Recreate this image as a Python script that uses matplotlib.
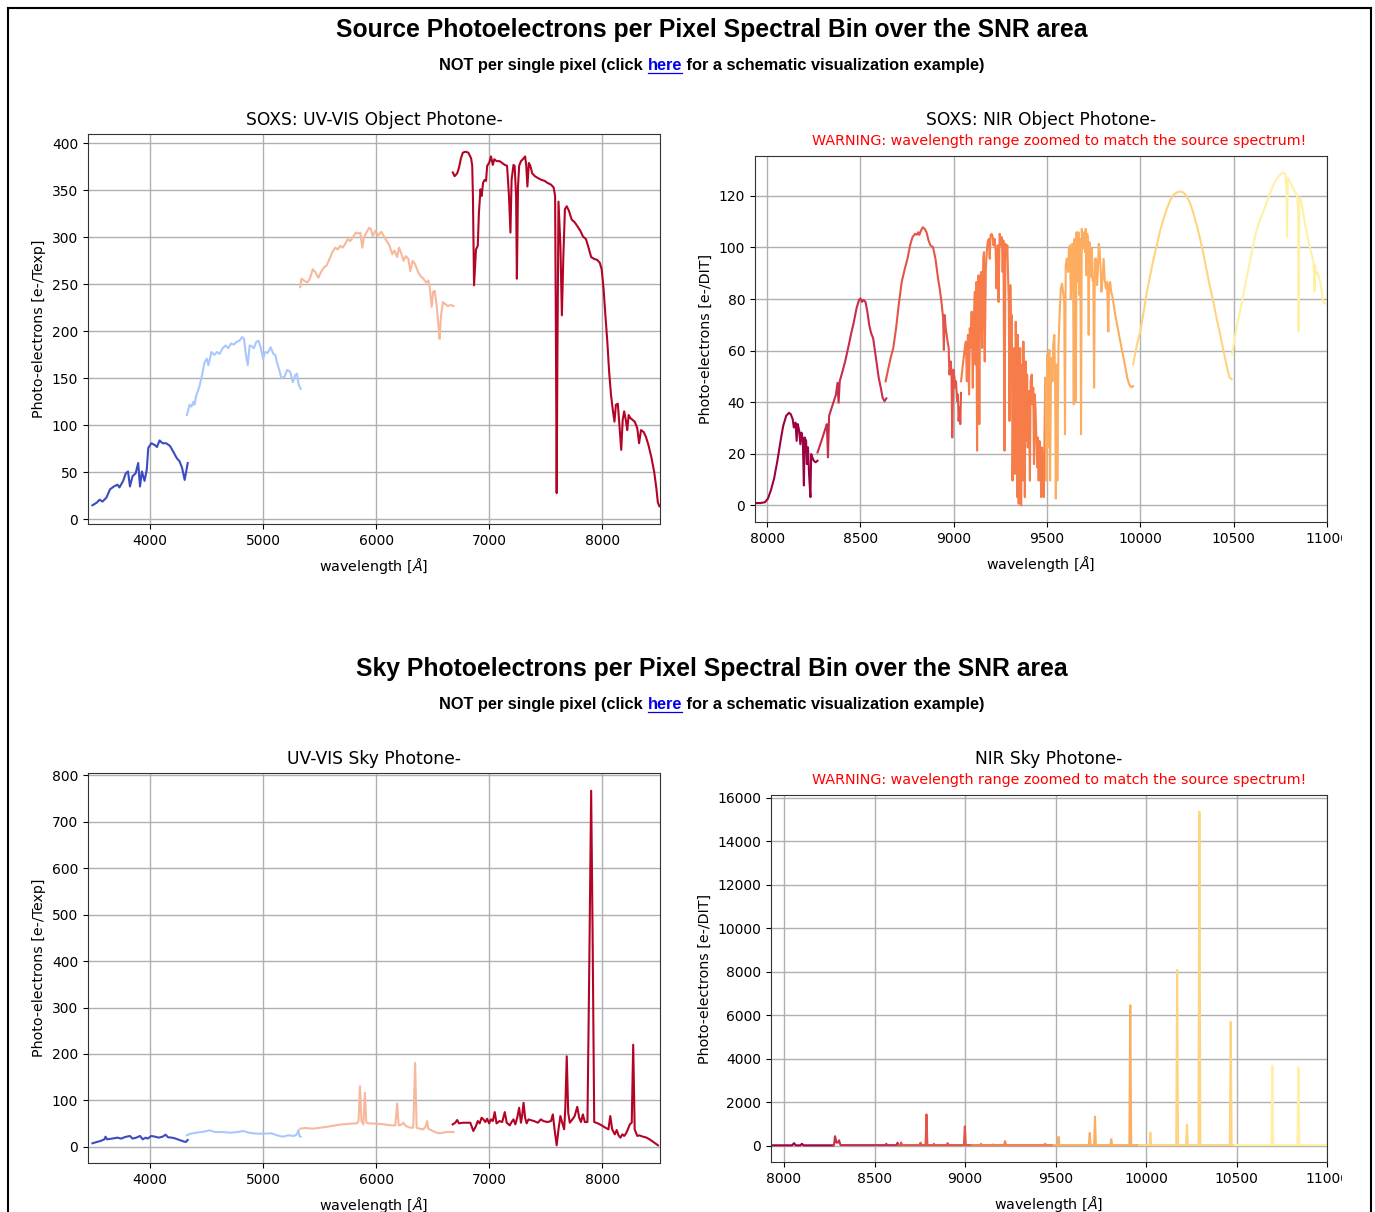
import matplotlib
matplotlib.use("Agg")
import matplotlib.pyplot as plt
import numpy as np
from matplotlib.lines import Line2D
from matplotlib.transforms import Bbox, TransformedBbox

W, H = 1375, 1212

# ---------------- source photo-electrons, UV-VIS arms (Angstrom, e-/Texp)
uv_src_wl_1 = [3489, 3529, 3552, 3578, 3612, 3645, 3678, 3711, 3728, 3761, 3784, 3804, 3821, 3844, 3871, 3894,
               3910, 3927, 3950, 3970, 3983, 4010, 4043, 4060, 4083, 4110, 4143, 4176, 4209, 4236, 4259, 4282,
               4305, 4332]
uv_src_e_1 = [15, 18, 21, 19, 23, 32, 35, 37, 34, 41, 49, 51, 35, 46, 49, 60, 35, 51, 41, 53, 76, 81, 79, 77, 84,
              81, 81, 78, 71, 65, 62, 55, 42, 60]

uv_src_wl_2 = [4325, 4349, 4365, 4382, 4392, 4408, 4435, 4458, 4481, 4501, 4515, 4541, 4568, 4591, 4614, 4641,
               4667, 4691, 4714, 4740, 4767, 4790, 4813, 4830, 4847, 4863, 4880, 4900, 4916, 4940, 4959, 4979,
               4999, 5016, 5039, 5066, 5089, 5106, 5122, 5139, 5162, 5189, 5212, 5238, 5262, 5282, 5298, 5315,
               5331]
uv_src_e_2 = [111, 122, 120, 125, 122, 132, 141, 153, 167, 171, 164, 178, 175, 178, 176, 182, 185, 182, 187, 186,
              189, 190, 194, 192, 175, 164, 185, 184, 182, 189, 190, 182, 171, 178, 177, 183, 176, 175, 167, 160,
              150, 152, 159, 157, 146, 153, 155, 143, 139]

uv_src_wl_3 = [5328, 5338, 5361, 5388, 5404, 5421, 5438, 5461, 5487, 5511, 5537, 5560, 5587, 5610, 5637, 5660,
               5680, 5703, 5726, 5746, 5770, 5793, 5819, 5843, 5859, 5876, 5892, 5912, 5936, 5952, 5969, 5992,
               6019, 6045, 6068, 6092, 6118, 6141, 6161, 6185, 6201, 6218, 6241, 6261, 6284, 6301, 6321, 6341,
               6367, 6390, 6417, 6440, 6460, 6473, 6490, 6503, 6517, 6533, 6550, 6560, 6573, 6590, 6610, 6633,
               6659, 6683]
uv_src_e_3 = [247, 256, 254, 252, 254, 259, 266, 263, 257, 263, 268, 270, 277, 284, 289, 287, 291, 289, 293, 298,
              296, 300, 305, 304, 305, 289, 300, 305, 310, 309, 301, 307, 302, 306, 301, 296, 291, 282, 286, 279,
              289, 284, 275, 280, 277, 264, 275, 272, 264, 259, 256, 252, 254, 247, 226, 242, 243, 229, 206, 192,
              217, 231, 229, 227, 228, 227]

uv_src_wl_4 = [6677, 6693, 6716, 6732, 6749, 6766, 6789, 6815, 6839, 6849, 6855, 6865, 6882, 6898, 6908, 6922,
               6932, 6945, 6958, 6971, 6981, 6998, 7015, 7031, 7044, 7064, 7091, 7114, 7137, 7157, 7174, 7187,
               7197, 7214, 7224, 7237, 7244, 7254, 7264, 7280, 7297, 7317, 7327, 7337, 7350, 7363, 7380, 7403,
               7430, 7463, 7489, 7513, 7546, 7569, 7582, 7589, 7596, 7602, 7612, 7629, 7642, 7655, 7669, 7685,
               7705, 7728, 7755, 7778, 7805, 7828, 7855, 7878, 7901, 7928, 7954, 7977, 7994, 8011, 8027, 8044,
               8060, 8077, 8094, 8107, 8120, 8137, 8153, 8167, 8180, 8193, 8210, 8220, 8233, 8246, 8266, 8286,
               8309, 8325, 8342, 8365, 8385, 8408, 8432, 8458, 8478, 8491, 8505]
uv_src_e_4 = [369, 365, 368, 374, 384, 390, 391, 390, 384, 376, 344, 249, 287, 291, 326, 351, 344, 358, 361, 360,
              376, 379, 386, 377, 383, 381, 381, 379, 377, 376, 344, 305, 361, 377, 376, 344, 256, 354, 376, 381,
              383, 386, 376, 354, 379, 376, 368, 365, 363, 361, 360, 358, 356, 353, 344, 203, 28, 167, 338, 291,
              217, 280, 330, 333, 328, 319, 316, 312, 307, 301, 298, 289, 279, 277, 276, 273, 266, 245, 217, 189,
              157, 132, 115, 104, 122, 123, 97, 74, 106, 115, 104, 95, 111, 108, 106, 104, 97, 81, 95, 93, 88, 79,
              67, 51, 33, 18, 14]

# ---------------- source photo-electrons, NIR orders (Angstrom, e-/DIT)
nir_src_wl_1 = [7939, 7963, 7988, 8004, 8020, 8037, 8055, 8072, 8086, 8102, 8117, 8127, 8137, 8143, 8152, 8158,
                8164, 8172, 8178, 8184, 8191, 8197, 8201, 8209, 8213, 8219, 8225, 8232, 8236, 8242, 8250, 8260,
                8270]
nir_src_e_1 = [0.9, 0.9, 1.2, 2.6, 5.8, 10.3, 17.3, 25.0, 30.8, 34.7, 35.9, 35.3, 33.4, 30.2, 32.1, 25.0, 31.5,
               28.9, 23.7, 28.2, 25.7, 7.7, 26.3, 25.0, 16.0, 22.5, 11.6, 3.2, 19.9, 18.6, 17.3, 16.7, 17.3]

nir_src_wl_2 = [8270, 8291, 8311, 8320, 8326, 8332, 8352, 8369, 8377, 8383, 8389, 8404, 8418, 8434, 8451, 8465,
                8479, 8492, 8500, 8508, 8516, 8527, 8537, 8547, 8557, 8568, 8578, 8588, 8598, 8609, 8619, 8629,
                8639]
nir_src_e_2 = [20.5, 25.0, 29.5, 31.5, 18.6, 34.7, 39.2, 43.0, 47.5, 39.8, 48.1, 52.0, 55.8, 61.0, 66.8, 71.2,
               76.4, 79.6, 80.2, 78.9, 79.6, 78.9, 75.1, 70.0, 66.8, 64.8, 59.7, 54.6, 49.4, 45.6, 41.7, 40.4, 41.5]

nir_src_wl_3 = [8635, 8650, 8664, 8676, 8691, 8705, 8721, 8738, 8752, 8766, 8779, 8793, 8803, 8809, 8816, 8824,
                8834, 8844, 8854, 8865, 8875, 8889, 8902, 8916, 8926, 8936, 8943, 8947, 8951, 8957, 8967, 8973,
                8977, 8984, 8988, 8992, 8998, 9004, 9008, 9012, 9018, 9022, 9026, 9031, 9035, 9039]
nir_src_e_3 = [48.1, 53.3, 57.8, 61.0, 68.7, 77.7, 86.6, 91.8, 95.6, 100.8, 104.0, 105.3, 104.9, 105.9, 104.9,
               106.5, 107.8, 107.2, 105.9, 102.7, 100.8, 100.1, 95.6, 87.9, 83.4, 77.7, 72.5, 60.3, 73.8, 68.7,
               63.5, 61.0, 50.7, 55.8, 50.7, 26.3, 52.6, 49.4, 45.6, 48.1, 40.4, 43.0, 32.7, 37.9, 31.5, 43.6]

nir_src_wl_4 = [9039, 9049, 9059, 9065, 9070, 9076, 9082, 9086, 9090, 9096, 9102, 9106, 9113, 9117, 9121, 9125,
                9129, 9133, 9137, 9141, 9147, 9152, 9158, 9162, 9166, 9172, 9178, 9182, 9188, 9193, 9197, 9203,
                9209, 9213, 9219, 9225, 9229, 9236, 9240, 9246, 9252, 9258, 9262, 9266, 9272, 9277, 9283, 9287,
                9291, 9295, 9299, 9303, 9307, 9311, 9315, 9320, 9324, 9328, 9332, 9336, 9340, 9344, 9348, 9352,
                9356, 9361, 9365, 9369, 9373, 9377, 9381, 9385, 9389, 9393, 9397, 9402, 9408, 9412, 9418, 9422,
                9426, 9430, 9434, 9438, 9443, 9447, 9451, 9455, 9459, 9463, 9469, 9473, 9479, 9483, 9490]
nir_src_e_4 = [48.1, 54.6, 61.0, 63.5, 48.1, 66.1, 43.0, 68.7, 61.0, 75.1, 45.6, 68.7, 82.8, 54.6, 86.6, 21.2,
               84.1, 89.2, 31.5, 81.5, 90.5, 61.0, 95.6, 98.2, 55.8, 91.8, 99.5, 102.1, 103.3, 95.6, 104.6, 105.3,
               104.0, 100.8, 103.3, 98.2, 84.1, 100.8, 78.9, 105.3, 100.8, 104.0, 90.5, 102.7, 21.2, 101.4, 96.9,
               100.8, 89.2, 77.7, 32.7, 85.4, 66.1, 73.8, 9.6, 48.1, 61.0, 12.2, 71.2, 50.7, 3.2, 66.1, 0.6, 40.4,
               61.0, 0.0, 54.6, 9.6, 63.5, 41.7, 3.2, 55.8, 25.0, 50.7, 22.5, 44.3, 9.6, 48.1, 50.7, 39.2, 45.6,
               16.0, 43.0, 37.9, 25.0, 14.8, 26.3, 9.6, 25.0, 21.2, 3.2, 22.5, 9.6, 3.2, 49.4]

nir_src_wl_5 = [9490, 9496, 9500, 9506, 9512, 9516, 9522, 9529, 9533, 9539, 9543, 9547, 9551, 9555, 9561, 9567,
                9574, 9580, 9586, 9592, 9596, 9600, 9606, 9613, 9617, 9623, 9627, 9631, 9635, 9639, 9643, 9647,
                9654, 9658, 9664, 9668, 9674, 9678, 9682, 9686, 9690, 9695, 9699, 9703, 9707, 9711, 9715, 9719,
                9723, 9727, 9731, 9736, 9740, 9744, 9748, 9752, 9756, 9762, 9768, 9772, 9777, 9781, 9787, 9791,
                9797, 9803, 9809, 9815, 9822, 9828, 9832, 9838, 9844, 9852, 9860, 9869, 9879, 9889, 9899, 9910,
                9920, 9930, 9940, 9951, 9961]
nir_src_e_5 = [49.4, 9.6, 58.4, 22.5, 60.3, 9.6, 57.1, 48.1, 62.3, 66.1, 48.1, 2.6, 54.6, 9.6, 61.0, 73.8, 84.1,
               86.0, 82.8, 78.9, 27.6, 93.1, 95.6, 90.5, 99.5, 100.8, 80.2, 89.2, 101.4, 96.9, 39.2, 103.3, 40.4,
               105.9, 86.6, 105.9, 81.5, 103.3, 27.6, 107.2, 99.5, 104.6, 105.9, 98.2, 107.2, 89.2, 105.3, 103.3,
               66.1, 102.1, 95.6, 88.6, 99.5, 87.3, 86.6, 45.6, 95.6, 95.6, 85.4, 90.5, 101.4, 99.5, 91.8, 82.8,
               87.3, 95.6, 87.9, 84.1, 86.6, 67.4, 85.4, 86.6, 82.8, 80.2, 76.4, 72.5, 68.7, 64.8, 61.0, 57.1,
               53.3, 49.4, 46.9, 45.8, 46.2]

nir_src_wl_6 = [9961, 9982, 10000, 10018, 10035, 10053, 10071, 10088, 10106, 10124, 10141, 10159, 10177, 10194,
                10212, 10230, 10247, 10265, 10283, 10300, 10318, 10336, 10353, 10371, 10389, 10406, 10424, 10442,
                10459, 10477, 10489]
nir_src_e_6 = [54.7, 62.4, 67.5, 75.2, 82.9, 89.3, 95.7, 100.8, 106.6, 111.0, 114.9, 118.1, 120.3, 121.3, 121.7,
               121.3, 120.0, 117.4, 113.6, 109.1, 104.0, 98.2, 91.8, 85.4, 79.7, 73.3, 67.5, 61.1, 55.3, 49.6, 48.9]

nir_src_wl_7 = [10491, 10512, 10530, 10548, 10565, 10583, 10601, 10618, 10636, 10654, 10671, 10689, 10707, 10724,
                10742, 10756, 10769, 10777, 10783, 10786, 10790, 10795, 10804, 10813, 10822, 10830, 10839, 10845,
                10848, 10852, 10857, 10866, 10875, 10883, 10892, 10901, 10910, 10919, 10928, 10933, 10936, 10940,
                10945, 10954, 10963, 10972, 10977, 10995]
nir_src_e_7 = [58.5, 67.5, 73.9, 80.3, 86.7, 93.1, 99.5, 105.3, 109.8, 113.0, 116.2, 120.0, 123.2, 125.8, 127.7,
               128.7, 129.0, 128.3, 122.6, 104.0, 127.0, 126.4, 125.1, 123.8, 122.6, 121.3, 120.0, 116.2, 67.5,
               118.7, 119.4, 116.2, 112.3, 108.5, 105.9, 102.1, 99.5, 97.0, 94.4, 82.9, 93.1, 89.3, 90.6, 89.3,
               86.7, 82.9, 79.0, 78.0]

# ---------------- sky photo-electrons, UV-VIS arms
uv_sky_wl_1 = [3489, 3529, 3562, 3595, 3605, 3618, 3661, 3711, 3744, 3778, 3821, 3844, 3877, 3910, 3934, 3960,
               3977, 4010, 4043, 4076, 4110, 4136, 4159, 4193, 4226, 4259, 4292, 4315, 4332]
uv_sky_e_1 = [7.9, 10.7, 12.9, 16.4, 22.1, 16.4, 17.9, 20.0, 17.9, 21.4, 23.6, 17.9, 20.0, 23.6, 16.4, 20.0, 17.9,
              23.6, 22.1, 20.0, 22.1, 26.4, 20.7, 20.0, 17.9, 15.0, 12.1, 10.7, 15.0]

uv_sky_wl_2 = [4325, 4359, 4408, 4475, 4525, 4574, 4641, 4707, 4774, 4823, 4873, 4940, 5006, 5072, 5122, 5172,
               5222, 5272, 5298, 5311, 5321, 5331]
uv_sky_e_2 = [25.0, 28.6, 30.7, 32.9, 35.7, 32.1, 32.1, 30.7, 32.1, 34.3, 30.7, 28.6, 28.6, 29.3, 25.0, 22.1, 25.0,
              23.6, 27.1, 36.4, 23.6, 22.1]

uv_sky_wl_3 = [5328, 5371, 5438, 5504, 5570, 5637, 5703, 5770, 5829, 5843, 5856, 5869, 5886, 5899, 5912, 5936,
               6002, 6068, 6135, 6168, 6185, 6198, 6221, 6241, 6261, 6301, 6327, 6344, 6357, 6384, 6417, 6440,
               6450, 6460, 6500, 6533, 6566, 6616, 6683]
uv_sky_e_3 = [39.3, 40.7, 39.3, 41.4, 43.6, 46.4, 48.6, 50.0, 50.7, 55.7, 130.7, 55.7, 48.6, 116.4, 52.1, 50.7,
              50.0, 48.6, 46.4, 46.4, 93.6, 46.4, 47.9, 52.1, 45.0, 41.4, 41.4, 180.7, 41.4, 39.3, 37.9, 45.0,
              55.7, 39.3, 34.3, 30.7, 29.3, 32.1, 32.1]

uv_sky_wl_4 = [6676, 6699, 6716, 6732, 6766, 6799, 6832, 6859, 6882, 6898, 6915, 6932, 6948, 6965, 6981, 6998,
               7015, 7031, 7048, 7064, 7091, 7114, 7137, 7154, 7181, 7197, 7214, 7230, 7247, 7264, 7280, 7290,
               7303, 7317, 7330, 7347, 7363, 7396, 7430, 7456, 7479, 7513, 7546, 7562, 7579, 7596, 7612, 7629,
               7645, 7662, 7672, 7685, 7698, 7712, 7735, 7755, 7778, 7795, 7811, 7828, 7845, 7868, 7884, 7901,
               7914, 7928, 7961, 7994, 8027, 8054, 8070, 8087, 8110, 8127, 8143, 8160, 8177, 8193, 8210, 8226,
               8243, 8260, 8273, 8286, 8309, 8326, 8359, 8392, 8426, 8459, 8492]
uv_sky_e_4 = [48.6, 52.1, 57.9, 50.7, 52.1, 52.1, 52.1, 34.3, 45.0, 55.7, 50.7, 62.9, 59.3, 53.6, 60.7, 50.7,
              59.3, 55.7, 75.0, 50.7, 55.7, 53.6, 75.0, 52.1, 46.4, 53.6, 59.3, 48.6, 62.9, 84.3, 52.1, 66.4,
              95.0, 62.9, 50.7, 59.3, 57.9, 55.7, 52.1, 59.3, 55.7, 53.6, 55.7, 70.0, 34.3, 3.6, 37.9, 66.4,
              52.1, 37.9, 80.7, 195.0, 73.6, 52.1, 59.3, 66.4, 86.4, 62.9, 53.6, 70.0, 53.6, 53.6, 380.7, 766.4,
              452.1, 53.6, 50.7, 46.4, 41.4, 37.9, 66.4, 37.9, 27.1, 36.4, 25.0, 20.0, 27.1, 23.6, 29.3, 37.9,
              48.6, 52.1, 220.0, 37.9, 23.6, 25.0, 22.1, 20.0, 15.0, 9.3, 3.6]

# ---------------- sky photo-electrons, NIR orders
nir_sky_wl_1 = [7930, 8045, 8055, 8065, 8090, 8099, 8108, 8270]
nir_sky_e_1 = [30, 30, 130, 30, 30, 100, 30, 30]
nir_sky_wl_2 = [8270, 8276, 8282, 8290, 8298, 8304, 8312, 8560, 8565, 8570, 8622, 8627, 8633, 8639]
nir_sky_e_2 = [30, 40, 450, 150, 160, 260, 40, 40, 100, 40, 40, 150, 40, 40]
nir_sky_wl_3 = [8635, 8642, 8647, 8652, 8750, 8754, 8758, 8782, 8787, 8792, 8824, 8828, 8832, 8900, 8904, 8908,
                8994, 8999, 9004, 9039]
nir_sky_e_3 = [40, 40, 160, 40, 40, 150, 40, 40, 1450, 40, 40, 100, 40, 40, 130, 40, 40, 900, 40, 40]
nir_sky_wl_4 = [9039, 9085, 9089, 9093, 9151, 9155, 9159, 9216, 9221, 9226, 9438, 9443, 9448, 9490]
nir_sky_e_4 = [40, 40, 100, 40, 40, 70, 40, 40, 220, 40, 40, 100, 40, 40]
nir_sky_wl_5 = [9490, 9512, 9517, 9522, 9684, 9689, 9694, 9713, 9718, 9723, 9803, 9808, 9813, 9908, 9913, 9918,
                9961]
nir_sky_e_5 = [40, 40, 420, 40, 40, 600, 40, 40, 1350, 40, 40, 310, 40, 40, 6470, 40, 40]
nir_sky_wl_6 = [9961, 10019, 10024, 10029, 10167, 10172, 10177, 10221, 10226, 10231, 10290, 10295, 10300, 10463,
                10468, 10473, 10489]
nir_sky_e_6 = [40, 40, 620, 40, 40, 8080, 40, 40, 980, 40, 40, 15360, 40, 40, 5700, 40, 40]
nir_sky_wl_7 = [10489, 10693, 10698, 10703, 10837, 10842, 10847, 11000]
nir_sky_e_7 = [40, 40, 3690, 40, 40, 3600, 40, 40]

nir_ticks = [8000, 8500, 9000, 9500, 10000, 10500, 11000]
uv_ticks = [4000, 5000, 6000, 7000, 8000]

TICK_FS = 10
LABEL_FS = 10.3
TITLE_FS = 12.3
WARN_FS = 10.3

plt.rcParams['font.family'] = 'DejaVu Sans'
plt.rcParams['axes.edgecolor'] = '#333333'

fig = plt.figure(figsize=(W / 100, H / 100), dpi=100)
renderer = fig.canvas.get_renderer()


def fy(py):
    return 1 - py / H


def add_axes_px(left, top, right, bottom):
    return fig.add_axes([left / W, 1 - bottom / H, (right - left) / W, (bottom - top) / H])


def spectrum_panel(ax, wls, counts, colors, xlim, xticks, ylabel):
    for wl, ct, c in zip(wls, counts, colors):
        ax.plot(wl, ct, color=c, lw=1.5)
    ax.set_xlim(*xlim)
    ax.set_xticks(xticks)
    ax.grid(True, color='#b0b0b0', lw=1.0)
    ax.set_xlabel(r'wavelength [$\AA$]', fontsize=LABEL_FS, labelpad=6)
    ax.set_ylabel(ylabel, fontsize=LABEL_FS)
    ax.tick_params(labelsize=TICK_FS)


def header(title, title_py, sub_py):
    fig.text(712 / W, fy(title_py), title, ha='center', va='baseline', fontsize=17.8,
             fontweight='bold', family='Liberation Sans')
    pre = "NOT per single pixel (click"
    link = "here"
    post = " for a schematic visualization example)"
    kw = dict(fontsize=11.8, fontweight='bold', family='Liberation Sans', va='baseline', ha='left')

    def width(s):
        t = fig.text(0, 0, s, **kw)
        w = t.get_window_extent(renderer).width
        t.remove()
        return w

    w_full = width(pre + " " + link + post)
    w_head = width(pre + " " + link)
    w_link = width(link)
    x0 = 712 - w_full / 2
    fig.text(x0 / W, fy(sub_py), pre, color='black', **kw)
    fig.text((x0 + w_head - w_link) / W, fy(sub_py), link, color='#0000EE', **kw)
    fig.text((x0 + w_head) / W, fy(sub_py), post, color='black', **kw)
    fig.add_artist(Line2D([(x0 + w_head - w_link) / W, (x0 + w_head) / W], [fy(sub_py + 2.5)] * 2,
                          transform=fig.transFigure, color='#0000EE', lw=0.9))


uv_colors = plt.cm.coolwarm(np.linspace(0, 1, 4))
nir_colors = plt.cm.Spectral(np.linspace(0, 0.45, 7))

clip_right = TransformedBbox(Bbox.from_extents(0, 0, 1342 / W, 1), fig.transFigure)

# --- source spectrum block
header("Source Photoelectrons per Pixel Spectral Bin over the SNR area", 37, 70)

ax1 = add_axes_px(88, 134, 660, 524)
spectrum_panel(ax1, [uv_src_wl_1, uv_src_wl_2, uv_src_wl_3, uv_src_wl_4],
               [uv_src_e_1, uv_src_e_2, uv_src_e_3, uv_src_e_4],
               uv_colors, (3450, 8510), uv_ticks, 'Photo-electrons [e-/Texp]')
fig.text(374 / W, fy(125), 'SOXS: UV-VIS Object Photone-', ha='center', va='baseline', fontsize=TITLE_FS)

ax2 = add_axes_px(755, 156, 1327, 522)
spectrum_panel(ax2, [nir_src_wl_1, nir_src_wl_2, nir_src_wl_3, nir_src_wl_4, nir_src_wl_5, nir_src_wl_6,
                     nir_src_wl_7],
               [nir_src_e_1, nir_src_e_2, nir_src_e_3, nir_src_e_4, nir_src_e_5, nir_src_e_6, nir_src_e_7],
               nir_colors, (7935, 11000), nir_ticks, 'Photo-electrons [e-/DIT]')
fig.text(1041 / W, fy(125), 'SOXS: NIR Object Photone-', ha='center', va='baseline', fontsize=TITLE_FS)
fig.text(1059 / W, fy(145), 'WARNING: wavelength range zoomed to match the source spectrum!',
         ha='center', va='baseline', fontsize=WARN_FS, color='red')

# --- sky spectrum block
header("Sky Photoelectrons per Pixel Spectral Bin over the SNR area", 676, 709)

ax3 = add_axes_px(88, 773, 660, 1163)
spectrum_panel(ax3, [uv_sky_wl_1, uv_sky_wl_2, uv_sky_wl_3, uv_sky_wl_4],
               [uv_sky_e_1, uv_sky_e_2, uv_sky_e_3, uv_sky_e_4],
               uv_colors, (3450, 8510), uv_ticks, 'Photo-electrons [e-/Texp]')
fig.text(374 / W, fy(764), 'UV-VIS Sky Photone-', ha='center', va='baseline', fontsize=TITLE_FS)

ax4 = add_axes_px(771, 795, 1327, 1162)
spectrum_panel(ax4, [nir_sky_wl_1, nir_sky_wl_2, nir_sky_wl_3, nir_sky_wl_4, nir_sky_wl_5, nir_sky_wl_6,
                     nir_sky_wl_7],
               [nir_sky_e_1, nir_sky_e_2, nir_sky_e_3, nir_sky_e_4, nir_sky_e_5, nir_sky_e_6, nir_sky_e_7],
               nir_colors, (7928, 11000), nir_ticks, 'Photo-electrons [e-/DIT]')
ax4.set_yticks(np.arange(0, 16001, 2000))
fig.text(1049 / W, fy(764), 'NIR Sky Photone-', ha='center', va='baseline', fontsize=TITLE_FS)
fig.text(1059 / W, fy(784), 'WARNING: wavelength range zoomed to match the source spectrum!',
         ha='center', va='baseline', fontsize=WARN_FS, color='red')

# the page frame crops the last NIR tick label
for ax in (ax2, ax4):
    for lab in ax.get_xticklabels():
        lab.set_clip_box(clip_right)
        lab.set_clip_on(True)

# page frame
frame = dict(transform=fig.transFigure, color='black', lw=1.5)
fig.add_artist(Line2D([8 / W, 8 / W], [0, fy(8)], **frame))
fig.add_artist(Line2D([8 / W, 1371 / W], [fy(8), fy(8)], **frame))
fig.add_artist(Line2D([1371 / W, 1371 / W], [0, fy(8)], **frame))

fig.savefig('out.png', dpi=100)
